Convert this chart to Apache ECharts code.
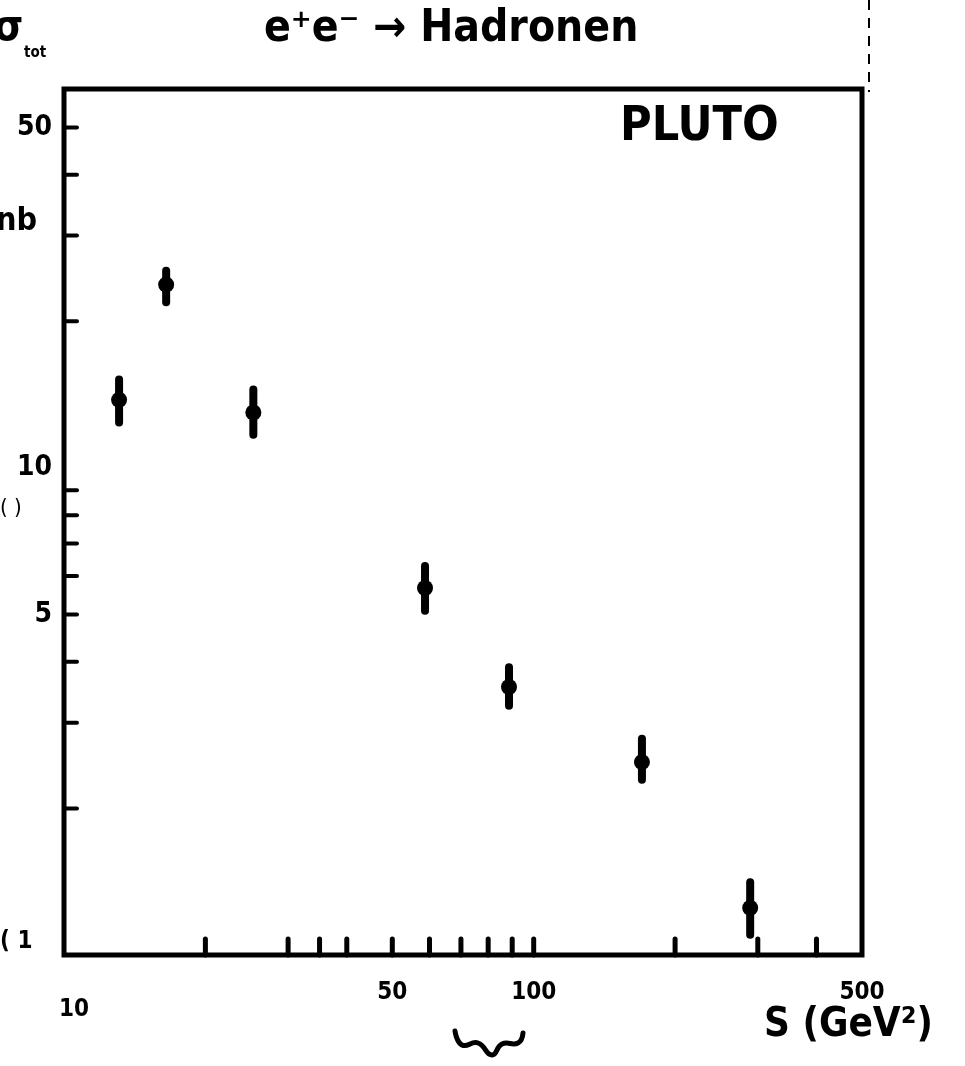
<!DOCTYPE html>
<html lang="de">
<head>
    <meta charset="utf-8">
    <title>e+e- → Hadronen (PLUTO)</title>
    <script src="https://cdn.jsdelivr.net/npm/echarts@6/dist/echarts.min.js"></script>
    <style>
        html, body { margin: 0; padding: 0; background: #fff; }
    </style>
</head>
<body>
<div id="main" style="width: 965px; height: 1066px;"></div>
<script>
    // Messpunkte (s in GeV^2, sigma_tot in nb)
    var sValues = [13.1, 16.5, 25.3, 58.7, 88.6, 170, 289];
    var sigma = [13.8, 23.8, 13.0, 5.67, 3.55, 2.49, 1.25];
    var sigmaLow = [12.4, 21.9, 11.7, 5.09, 3.25, 2.29, 1.10];
    var sigmaHigh = [15.2, 25.4, 14.5, 6.29, 3.90, 2.78, 1.41];

    // Achsenstriche und Beschriftungen
    var xTicks = [20, 30, 35, 40, 50, 60, 70, 80, 90, 100, 200, 300, 400];
    var yTicks = [2, 3, 4, 5, 6, 7, 8, 9, 20, 30, 40, 50];
    var xTickLabels = [10, 50, 100, 500];
    var yTickLabels = [50, 10, 5];

    var X_MIN = 10, X_MAX = 500, Y_MIN = 1, Y_MAX = 60;
    var hand = '"DejaVu Sans Condensed", "DejaVu Sans", sans-serif';

    var chart = echarts.init(document.getElementById('main'));

    var points = sValues.map(function (s, i) { return [s, sigma[i]]; });
    var bars = sValues.map(function (s, i) { return [s, sigmaLow[i], sigmaHigh[i]]; });

    var option = {
        backgroundColor: '#fff',
        animation: false,
        grid: {
            left: 64, right: 103, top: 89, bottom: 111,
            show: true, borderColor: '#000', borderWidth: 5
        },
        xAxis: {
            type: 'log', logBase: 10, min: X_MIN, max: X_MAX,
            axisLine: { show: false }, axisTick: { show: false },
            axisLabel: { show: false }, splitLine: { show: false }, minorSplitLine: { show: false }
        },
        yAxis: {
            type: 'log', logBase: 10, min: Y_MIN, max: Y_MAX,
            axisLine: { show: false }, axisTick: { show: false },
            axisLabel: { show: false }, splitLine: { show: false }, minorSplitLine: { show: false }
        },
        graphic: [
            { type: 'text', left: 264, top: 8,
              style: { text: 'e⁺e⁻ → Hadronen', font: 'bold 44px ' + hand, fill: '#000' } },
            { type: 'text', left: -6, top: 8,
              style: { text: 'σ', font: 'bold 42px ' + hand, fill: '#000' } },
            { type: 'text', left: 24, top: 46,
              style: { text: 'tot', font: 'bold 15px ' + hand, fill: '#000' } },
            { type: 'text', left: -4, top: 206,
              style: { text: 'nb', font: 'bold 32px ' + hand, fill: '#000' } },
            { type: 'text', left: 0, top: 497,
              style: { text: '( )', font: '22px ' + hand, fill: '#000' } },
            { type: 'text', left: 0, top: 930,
              style: { text: '( 1', font: 'bold 24px ' + hand, fill: '#000' } },
            { type: 'text', left: 620, top: 104,
              style: { text: 'PLUTO', font: 'bold 48px ' + hand, fill: '#000' } },
            { type: 'text', left: 764, top: 1006,
              style: { text: 'S (GeV²)', font: 'bold 40px ' + hand, fill: '#000' } },
            { type: 'line', shape: { x1: 869, y1: 0, x2: 869, y2: 92 },
              style: { stroke: '#000', lineWidth: 2, lineDash: [10, 8] } },
            { type: 'polyline', shape: { smooth: 0.5, points: [[455, 1031], [462, 1045], [478, 1043], [492, 1055], [502, 1044], [518, 1043], [523, 1033]] },
              style: { stroke: '#000', lineWidth: 5, fill: null, lineCap: 'round' } }
        ],
        series: [
            {
                // x-Achsenstriche
                type: 'custom', silent: true, z: 5,
                data: xTicks.map(function (v) { return [v, Y_MIN]; }),
                renderItem: function (params, api) {
                    var p = api.coord([api.value(0), Y_MIN]);
                    return { type: 'line', shape: { x1: p[0], y1: p[1], x2: p[0], y2: p[1] - 16 },
                             style: { stroke: '#000', lineWidth: 5, lineCap: 'round' } };
                }
            },
            {
                // y-Achsenstriche
                type: 'custom', silent: true, z: 5,
                data: yTicks.map(function (v) { return [X_MIN, v]; }),
                renderItem: function (params, api) {
                    var p = api.coord([X_MIN, api.value(1)]);
                    return { type: 'line', shape: { x1: p[0], y1: p[1], x2: p[0] + 13, y2: p[1] },
                             style: { stroke: '#000', lineWidth: 4, lineCap: 'round' } };
                }
            },
            {
                // x-Beschriftung
                type: 'custom', silent: true,
                data: xTickLabels.map(function (v) { return [v, Y_MIN]; }),
                renderItem: function (params, api) {
                    var v = api.value(0);
                    var p = api.coord([v, Y_MIN]);
                    var first = params.dataIndex === 0;
                    return { type: 'text', x: p[0] + (first ? 10 : 0), y: p[1] + (first ? 55 : 38),
                             style: { text: String(v), font: 'bold 24px ' + hand, fill: '#000',
                                      align: 'center', verticalAlign: 'middle' } };
                }
            },
            {
                // y-Beschriftung
                type: 'custom', silent: true,
                data: yTickLabels.map(function (v) { return [X_MIN, v]; }),
                renderItem: function (params, api) {
                    var v = api.value(1);
                    var p = api.coord([X_MIN, v]);
                    return { type: 'text', x: p[0] - 12, y: p[1],
                             style: { text: String(v), font: 'bold 28px ' + hand, fill: '#000',
                                      align: 'right', verticalAlign: 'middle' } };
                }
            },
            {
                // Fehlerbalken
                type: 'custom', z: 3,
                data: bars,
                renderItem: function (params, api) {
                    var lo = api.coord([api.value(0), api.value(1)]);
                    var hi = api.coord([api.value(0), api.value(2)]);
                    return { type: 'line', shape: { x1: lo[0], y1: lo[1], x2: hi[0], y2: hi[1] },
                             style: { stroke: '#000', lineWidth: 8, lineCap: 'round' } };
                }
            },
            {
                type: 'scatter', z: 4,
                data: points,
                symbol: 'circle', symbolSize: 16,
                itemStyle: { color: '#000', opacity: 1 }
            }
        ]
    };
    chart.setOption(option);
    window.onresize = chart.resize;
</script>
</body>
</html>
